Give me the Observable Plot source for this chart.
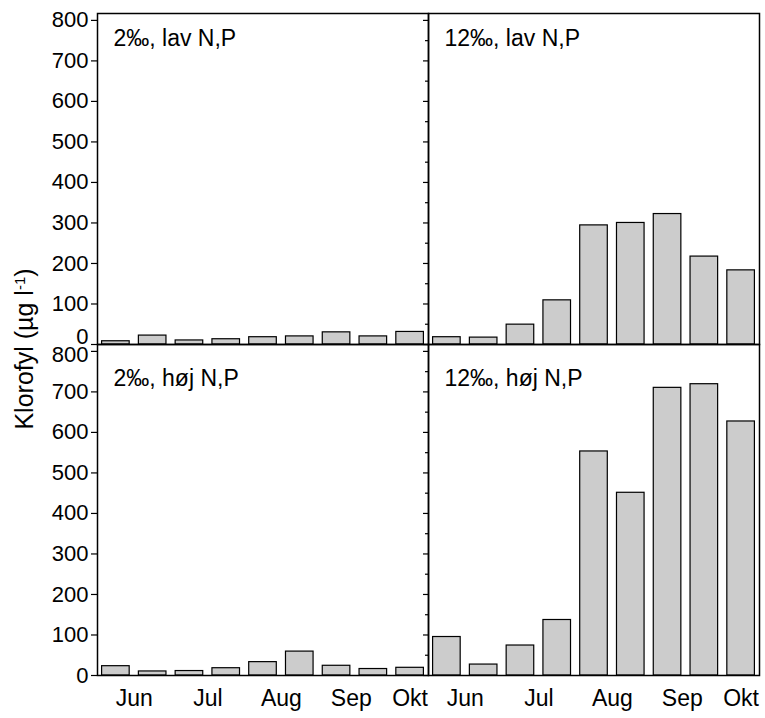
<!DOCTYPE html>
<html><head><meta charset="utf-8">
<script src="https://cdn.jsdelivr.net/npm/d3@7"></script>
<script src="https://cdn.jsdelivr.net/npm/@observablehq/plot@0.6"></script>
<style>html,body{margin:0;padding:0;background:#fff}#chart svg{display:block}</style>
</head><body><div id="chart"></div>
<script>
// Categories
const salinities = ["2‰", "12‰"];
const nutrients = ["lav", "høj"];
const sampleIndex = [0, 1, 2, 3, 4, 5, 6, 7, 8];
// Series values (Klorofyl, µg/l) per panel
const sal2_lav = [8, 22, 10, 13, 18, 20, 30, 20, 31];
const sal12_lav = [18, 17, 49, 109, 294, 300, 322, 217, 183];
const sal2_hoj = [23, 10, 11, 18, 33, 59, 24, 16, 19];
const sal12_hoj = [95, 27, 74, 137, 553, 451, 710, 719, 627];
// Tick labels
const monthLabels = ["Jun", "Jul", "Aug", "Sep", "Okt"];
const monthPositions = [0.5, 2.5, 4.5, 6.4, 8];
const yTicks = [0, 100, 200, 300, 400, 500, 600, 700, 800];
const yMinorTicks = [50, 150, 250, 350, 450, 550, 650, 750];
const panelTitles = ["2‰, lav N,P", "12‰, lav N,P", "2‰, høj N,P", "12‰, høj N,P"];

const series = [
  {sal: salinities[0], nut: nutrients[0], values: sal2_lav},
  {sal: salinities[1], nut: nutrients[0], values: sal12_lav},
  {sal: salinities[0], nut: nutrients[1], values: sal2_hoj},
  {sal: salinities[1], nut: nutrients[1], values: sal12_hoj}
];
const rows = series.flatMap(s => sampleIndex.map(i => ({sal: s.sal, nut: s.nut, i, v: s.values[i]})));
const titles = series.map((s, k) => ({sal: s.sal, nut: s.nut, text: panelTitles[k]}));
const leftLabels = nutrients.flatMap(n => yTicks.map(v => ({sal: salinities[0], nut: n, v})));
const yMax = yTicks[yTicks.length - 1];
const isTopZero = d => d.nut === nutrients[0] && d.v === 0;
const isBottomTop = d => d.nut === nutrients[1] && d.v === yMax;

const labelOpts = {fx: "sal", fy: "nut", y: "v", text: d => String(d.v), frameAnchor: "left", dx: -9, textAnchor: "end", lineAnchor: "middle", fontSize: 22};

const chart = Plot.plot({
  width: 765,
  height: 718,
  marginLeft: 97,
  marginRight: 6,
  marginTop: 12,
  marginBottom: 43,
  style: {fontFamily: "'Liberation Sans', Arial, sans-serif", fontSize: "22px", color: "black", background: "white", overflow: "visible"},
  fx: {domain: salinities, padding: 0, axis: null},
  fy: {domain: nutrients, padding: 0, axis: null},
  x: {domain: [-0.5, 8.5], axis: null},
  y: {domain: [0, 817], axis: null},
  marks: [
    Plot.rect(rows, {fx: "sal", fy: "nut", x1: d => d.i - 0.375, x2: d => d.i + 0.375, y1: 0, y2: "v", fill: "#cccccc", stroke: "black", strokeWidth: 1.2}),
    Plot.frame({stroke: "black", strokeWidth: 1.5}),
    Plot.axisY(yTicks, {anchor: "left", facetAnchor: "left", tickSize: 6, fill: "none", label: null, strokeWidth: 1.2}),
    Plot.text(leftLabels.filter(d => !isTopZero(d) && !isBottomTop(d)), labelOpts),
    Plot.text(leftLabels.filter(isTopZero), {...labelOpts, dy: -8}),
    Plot.text(leftLabels.filter(isBottomTop), {...labelOpts, dy: 4}),
    Plot.axisY(yTicks, {anchor: "left", facetAnchor: "right", tickSize: 5, fill: "none", label: null, strokeWidth: 1.2}),
    Plot.axisY(yMinorTicks, {anchor: "left", facetAnchor: "right", tickSize: 3, fill: "none", label: null, strokeWidth: 1.2}),
    Plot.axisX(monthPositions, {anchor: "bottom", facetAnchor: "bottom", tickSize: 0, tickPadding: 14, label: null, fontSize: 23,
      tickFormat: d => monthLabels[monthPositions.indexOf(d)]}),
    Plot.text(titles.filter(t => t.nut === nutrients[0]), {fx: "sal", fy: "nut", text: "text", frameAnchor: "top-left", dx: 16, dy: 32, lineAnchor: "bottom", textAnchor: "start", fontSize: 23}),
    Plot.text(titles.filter(t => t.nut === nutrients[1]), {fx: "sal", fy: "nut", text: "text", frameAnchor: "top-left", dx: 16, dy: 41.5, lineAnchor: "bottom", textAnchor: "start", fontSize: 23})
  ]
});

const label = d3.select(chart).append("text")
  .attr("transform", "translate(24,349) rotate(-90)")
  .attr("text-anchor", "middle")
  .attr("dy", "0.35em")
  .attr("fill", "black")
  .attr("font-size", 25);
label.append("tspan").text("Klorofyl (µg l");
label.append("tspan").attr("baseline-shift", "super").attr("font-size", 15).text("-1");
label.append("tspan").text(")");

document.getElementById("chart").appendChild(chart);
</script>
</body></html>
